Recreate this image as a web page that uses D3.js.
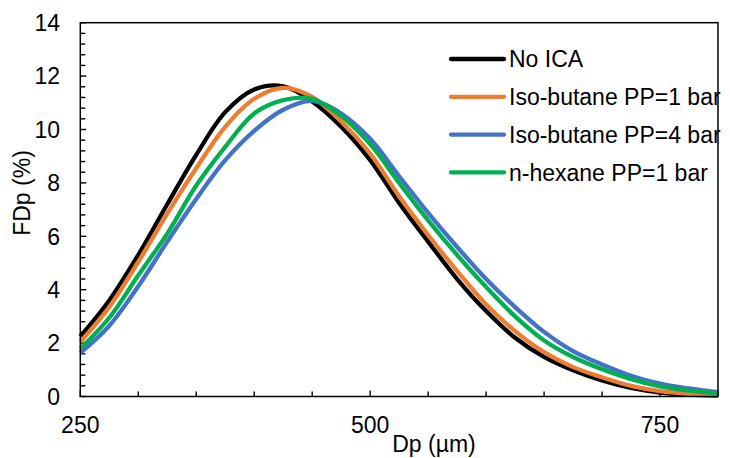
<!DOCTYPE html>
<html>
<head>
<meta charset="utf-8">
<script src="https://cdn.jsdelivr.net/npm/d3@7"></script>
<style>
  body { margin: 0; background: #fff; }
  text { font-family: "Liberation Sans", Arial, sans-serif; fill: #000; }
</style>
</head>
<body>
<svg id="chart" width="730" height="458"></svg>
<script>
// particle size (um)
var dp = [250, 275, 300, 325, 350, 375, 400, 425, 450, 475, 500, 525, 550,
  575, 600, 625, 650, 675, 700, 725, 750, 775, 800];

// FDp (%) per case
var no_ica = [2.25, 3.6, 5.3, 7.2, 9.05, 10.65, 11.5, 11.62, 11.05, 10.1, 8.85,
  7.25, 5.8, 4.4, 3.2, 2.2, 1.48, 0.98, 0.6, 0.32, 0.15, 0.07, 0.03];
var isobutane_1 = [2.04, 3.35, 5.04, 6.85, 8.55, 10.1, 11.15, 11.56, 11.22, 10.3,
  9.1, 7.5, 6.05, 4.7, 3.45, 2.45, 1.66, 1.1, 0.72, 0.4, 0.2, 0.1, 0.05];
var isobutane_4 = [1.63, 2.65, 4.13, 5.8, 7.4, 8.85, 9.95, 10.74, 11.07, 10.6,
  9.65, 8.25, 6.88, 5.6, 4.4, 3.35, 2.42, 1.7, 1.2, 0.78, 0.48, 0.3, 0.16];
var hexane_1 = [1.79, 2.95, 4.54, 6.1, 7.9, 9.35, 10.6, 11.1, 11.15, 10.5, 9.45,
  8.0, 6.6, 5.3, 4.1, 3.0, 2.1, 1.48, 1.02, 0.65, 0.38, 0.22, 0.12];

var series_names = ["No ICA", "Iso-butane PP=1 bar", "Iso-butane PP=4 bar", "n-hexane PP=1 bar"];
var series_values = [no_ica, isobutane_1, isobutane_4, hexane_1];
var series_colors = ["#000000", "#ED7D31", "#4472C4", "#00B050"];

var x_ticks = [250, 500, 750];
var y_ticks = [0, 2, 4, 6, 8, 10, 12, 14];

var svg = d3.select("#chart");

var x = d3.scaleLinear().domain([250, 800]).range([80.3, 718]);
var y = d3.scaleLinear().domain([0, 14]).range([396.5, 22.7]);

var font_size = 23;

// minor ticks, drawn inward
var y_minor = d3.range(0, 14.001, 0.4);
svg.append("g")
  .selectAll("line")
  .data(y_minor)
  .enter()
  .append("line")
  .attr("x1", x(250))
  .attr("x2", function(d) {
    return x(250) + (Math.abs(d / 2 - Math.round(d / 2)) < 1e-6 ? 6 : 5);
  })
  .attr("y1", function(d) { return y(d); })
  .attr("y2", function(d) { return y(d); })
  .attr("stroke", "#000")
  .attr("stroke-width", 1.4);

var x_minor = d3.range(250, 801, 50);
svg.append("g")
  .selectAll("line")
  .data(x_minor)
  .enter()
  .append("line")
  .attr("x1", function(d) { return x(d); })
  .attr("x2", function(d) { return x(d); })
  .attr("y1", y(0))
  .attr("y2", function(d) {
    return y(0) - (d % 250 == 0 ? 6 : 5);
  })
  .attr("stroke", "#000")
  .attr("stroke-width", 1.4);

// tick labels
svg.append("g")
  .selectAll("text")
  .data(y_ticks)
  .enter()
  .append("text")
  .attr("x", 60)
  .attr("y", function(d) { return y(d) + 8.2; })
  .attr("text-anchor", "end")
  .style("font-size", font_size + "px")
  .text(function(d) { return d; });

svg.append("g")
  .selectAll("text")
  .data(x_ticks)
  .enter()
  .append("text")
  .attr("x", function(d) { return x(d); })
  .attr("y", 433)
  .attr("text-anchor", "middle")
  .style("font-size", font_size + "px")
  .text(function(d) { return d; });

// axis titles
svg.append("text")
  .attr("transform", "translate(30,193) rotate(-90)")
  .attr("text-anchor", "middle")
  .style("font-size", font_size + "px")
  .text("FDp (%)");

svg.append("text")
  .attr("x", 434)
  .attr("y", 452)
  .attr("text-anchor", "middle")
  .style("font-size", font_size + "px")
  .text("Dp (\u00b5m)");

// curves
var line = d3.line()
  .x(function(d) { return x(d[0]); })
  .y(function(d) { return y(d[1]); })
  .curve(d3.curveCatmullRom.alpha(0.5));

svg.append("g")
  .selectAll("path")
  .data(series_values)
  .enter()
  .append("path")
  .attr("d", function(vals) {
    return line(dp.map(function(v, i) { return [v, vals[i]]; }));
  })
  .attr("fill", "none")
  .attr("stroke", function(d, i) { return series_colors[i]; })
  .attr("stroke-width", 4.3)
  .attr("stroke-linejoin", "round");

// frame
svg.append("rect")
  .attr("x", x(250))
  .attr("y", y(14))
  .attr("width", x(800) - x(250))
  .attr("height", y(0) - y(14))
  .attr("fill", "none")
  .attr("stroke", "#000")
  .attr("stroke-width", 1.5);

// legend
var legend = svg.append("g")
  .selectAll("g")
  .data(series_names)
  .enter()
  .append("g")
  .attr("transform", function(d, i) {
    return "translate(451," + (59 + i * 37.8) + ")";
  });

legend.append("line")
  .attr("x1", 0)
  .attr("x2", 53)
  .attr("stroke", function(d, i) { return series_colors[i]; })
  .attr("stroke-width", 4.3)
  .attr("stroke-linecap", "round");

legend.append("text")
  .attr("x", 58)
  .attr("y", 8.2)
  .style("font-size", font_size + "px")
  .text(function(d) { return d; });
</script>
</body>
</html>
